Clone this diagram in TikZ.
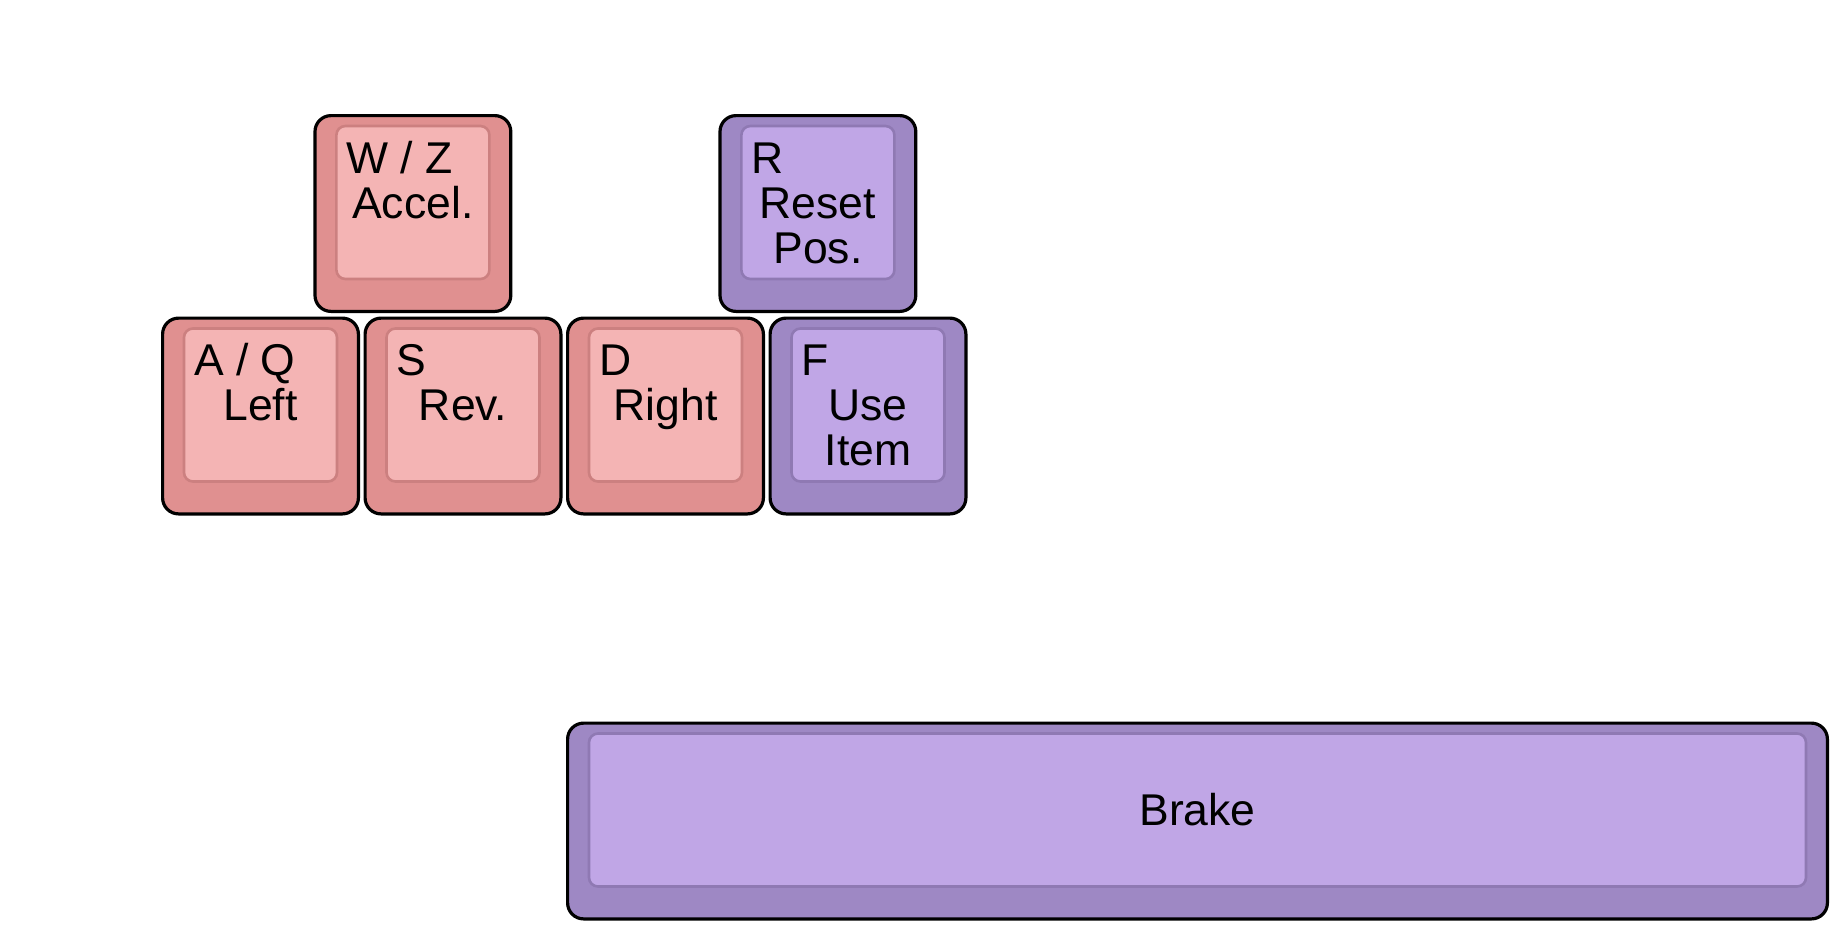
\documentclass[tikz,border=0pt]{standalone}
\usepackage{fontspec}
\setmainfont{Liberation Sans}
\definecolor{redO}{HTML}{E09090}
\definecolor{redI}{HTML}{F4B4B4}
\definecolor{redB}{HTML}{CC8080}
\definecolor{purO}{HTML}{9E88C4}
\definecolor{purI}{HTML}{C0A6E6}
\definecolor{purB}{HTML}{8F79B3}
\tikzset{
  keyouter/.style={draw=black, line width=3.2pt, rounded corners=16pt, inner sep=0pt, outer sep=0pt, anchor=north west},
  keyinner/.style={line width=2.6pt, rounded corners=9pt, inner sep=0pt, outer sep=0pt, anchor=north west},
  lbl/.style={inner sep=0pt, font=\fontsize{44.5pt}{45pt}\selectfont, text=black},
}
% #1 name, #2 x, #3 y, #4 width (px), #5 height (px), #6 scheme (red/pur)
\newcommand\keycap[6]{%
  \node[keyouter, fill=#6O, minimum width=#4pt-3.2pt, minimum height=#5pt-3.2pt] (#1) at (#2+1.6,#3+1.6) {};
  \node[keyinner, draw=#6B, fill=#6I, minimum width=#4pt-46pt, minimum height=#5pt-46pt] (#1i) at (#2+23,#3+12) {};
}
\begin{document}
\begin{tikzpicture}[x=1pt,y=-1pt]
\useasboundingbox (0,0) rectangle (1846,946);
\keycap{W}{313.4}{114}{199}{199}{red}
\keycap{R}{718.4}{114}{199}{199}{pur}
\keycap{A}{161}{316.5}{199}{199}{red}
\keycap{S}{363.5}{316.5}{199}{199}{red}
\keycap{D}{566}{316.5}{199}{199}{red}
\keycap{F}{768.5}{316.5}{199}{199}{pur}
\keycap{B}{566}{721.5}{1263}{199}{pur}
% labels
\node[lbl, anchor=base west] (Wt1) at ([xshift=10pt,yshift=-47pt]Wi.north west) {W / Z};
\node[lbl, anchor=base] (Wt2) at ([yshift=-92pt]Wi.north) {Accel.};
\node[lbl, anchor=base west] (Rt1) at ([xshift=10pt,yshift=-47pt]Ri.north west) {R};
\node[lbl, anchor=base] (Rt2) at ([yshift=-92pt]Ri.north) {Reset};
\node[lbl, anchor=base] (Rt3) at ([yshift=-137pt]Ri.north) {Pos.};
\node[lbl, anchor=base west] (At1) at ([xshift=10pt,yshift=-47pt]Ai.north west) {A / Q};
\node[lbl, anchor=base] (At2) at ([yshift=-92pt]Ai.north) {Left};
\node[lbl, anchor=base west] (St1) at ([xshift=10pt,yshift=-47pt]Si.north west) {S};
\node[lbl, anchor=base] (St2) at ([yshift=-92pt]Si.north) {Rev.};
\node[lbl, anchor=base west] (Dt1) at ([xshift=10pt,yshift=-47pt]Di.north west) {D};
\node[lbl, anchor=base] (Dt2) at ([yshift=-92pt]Di.north) {Right};
\node[lbl, anchor=base west] (Ft1) at ([xshift=10pt,yshift=-47pt]Fi.north west) {F};
\node[lbl, anchor=base] (Ft2) at ([yshift=-92pt]Fi.north) {Use};
\node[lbl, anchor=base] (Ft3) at ([yshift=-137pt]Fi.north) {Item};
\node[lbl] (Bt) at (Bi.center) {Brake};
\end{tikzpicture}
\end{document}
